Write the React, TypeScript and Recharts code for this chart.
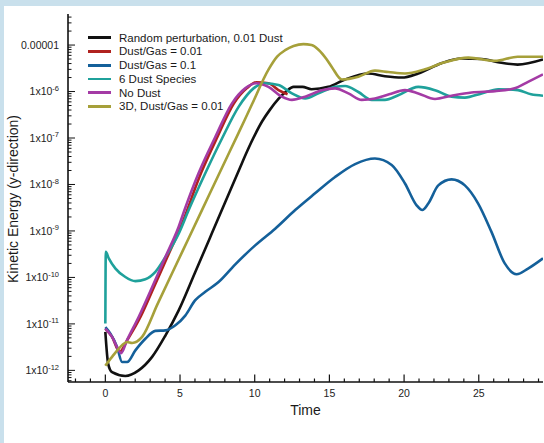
import { LineChart, Line, XAxis, YAxis, Legend } from "recharts";

// time samples and kinetic energy values
const blackT = [0, 0.19, 0.45, 1.34, 2.23, 3.13, 4.02, 4.91, 6.0, 7.0, 8.0, 9.0, 9.5, 10.03, 10.5, 11.0, 11.59, 12.1, 12.6, 13.2, 13.8, 14.93, 16.05, 17.6, 18.72, 19.84, 20.95, 22.5, 23.85, 25.2, 26.3, 27.6, 29.3];
const blackV = [6.76e-12, 1.38e-12, 9.12e-13, 7.59e-13, 1.0e-12, 1.95e-12, 5.62e-12, 1.95e-11, 1.26e-10, 7.08e-10, 3.98e-9, 2.24e-8, 5.25e-8, 1.2e-7, 2.29e-7, 3.98e-7, 6.92e-7, 1.0e-6, 1.26e-6, 1.26e-6, 1.12e-6, 1.26e-6, 1.82e-6, 2.45e-6, 2.14e-6, 2.0e-6, 2.45e-6, 4.07e-6, 5.13e-6, 5.01e-6, 4.27e-6, 3.8e-6, 4.9e-6];

const redT = [0, 0.45, 0.95, 1.5, 2.35, 3.25, 4.15, 5.05, 6.4, 7.5, 8.6, 9.5, 10.1, 10.92, 11.59, 12.2];
const redV = [7.94e-12, 5.25e-12, 2.51e-12, 4.68e-12, 1.41e-11, 6.17e-11, 2.75e-10, 1.23e-9, 1.74e-8, 1.05e-7, 5.5e-7, 1.2e-6, 1.58e-6, 1.51e-6, 1.07e-6, 8.71e-7];

const blueT = [0, 0.34, 0.79, 1.12, 1.46, 2.01, 2.68, 3.35, 4.02, 4.69, 5.35, 6.02, 6.69, 7.58, 8.7, 10.03, 11.37, 12.71, 14.04, 15.38, 16.72, 18.05, 19.17, 20.06, 20.84, 21.22, 21.62, 22.29, 23.18, 24.07, 24.96, 25.85, 26.74, 27.53, 28.3, 29.3];
const blueV = [8.51e-12, 6.17e-12, 3.16e-12, 1.51e-12, 1.51e-12, 2.69e-12, 4.79e-12, 7.08e-12, 7.24e-12, 9.33e-12, 1.51e-11, 3.24e-11, 4.9e-11, 7.94e-11, 1.91e-10, 4.9e-10, 1.12e-9, 2.82e-9, 6.46e-9, 1.45e-8, 2.75e-8, 3.63e-8, 2.63e-8, 1.05e-8, 3.55e-9, 2.82e-9, 3.89e-9, 9.55e-9, 1.29e-8, 9.55e-9, 3.89e-9, 9.55e-10, 2.0e-10, 1.17e-10, 1.55e-10, 2.57e-10];

const tealT = [0, 0.03, 0.23, 0.68, 1.34, 2.01, 2.68, 3.35, 4.02, 4.91, 5.58, 6.69, 7.81, 8.92, 9.92, 10.7, 11.59, 12.49, 13.38, 14.27, 15.38, 16.05, 16.94, 17.83, 18.72, 19.61, 20.95, 22.07, 23.18, 24.07, 25.19, 26.3, 27.63, 28.5, 29.3];
const tealV = [1.02e-11, 3.55e-10, 2.57e-10, 1.55e-10, 1.02e-10, 8.32e-11, 9.12e-11, 1.32e-10, 2.75e-10, 8.71e-10, 2.82e-9, 1.74e-8, 9.77e-8, 4.68e-7, 1.17e-6, 1.51e-6, 1.38e-6, 9.12e-7, 7.08e-7, 9.12e-7, 1.26e-6, 1.32e-6, 9.77e-7, 6.61e-7, 6.61e-7, 8.32e-7, 1.26e-6, 1.07e-6, 7.76e-7, 7.41e-7, 9.12e-7, 1.12e-6, 1.07e-6, 8.71e-7, 8.13e-7];

const magentaT = [0, 0.45, 0.9, 1.05, 1.45, 2.23, 3.13, 4.02, 4.91, 5.3, 6.24, 7.36, 8.47, 9.36, 10.1, 10.92, 11.81, 12.49, 13.38, 14.49, 15.38, 16.27, 17.16, 18.05, 19.0, 20.06, 20.95, 22.07, 23.18, 24.52, 26.08, 27.4, 28.3, 29.3];
const magentaV = [7.94e-12, 5.25e-12, 2.69e-12, 2.34e-12, 4.47e-12, 1.41e-11, 6.17e-11, 2.75e-10, 1.23e-9, 2.82e-9, 1.74e-8, 1.05e-7, 5.5e-7, 1.17e-6, 1.51e-6, 1.26e-6, 7.76e-7, 6.61e-7, 7.76e-7, 1.07e-6, 1.17e-6, 9.12e-7, 6.61e-7, 7.08e-7, 8.71e-7, 1.07e-6, 9.12e-7, 6.92e-7, 8.13e-7, 9.55e-7, 1.02e-6, 1.17e-6, 1.62e-6, 2.34e-6];

const oliveT = [0, 0.45, 1.12, 1.45, 1.79, 2.46, 3.5, 4.5, 5.5, 6.5, 7.81, 8.92, 9.81, 10.92, 11.5, 12.04, 12.6, 13.26, 13.8, 14.27, 14.8, 15.16, 15.83, 16.94, 18.05, 18.95, 20.06, 21.4, 22.73, 24.3, 26.08, 27.6, 29.3];
const oliveV = [1.26e-12, 1.95e-12, 3.47e-12, 4.07e-12, 3.89e-12, 5.25e-12, 2.69e-11, 1.29e-10, 6.17e-10, 2.95e-9, 2.29e-8, 1.29e-7, 5.25e-7, 2.95e-6, 5.62e-6, 7.76e-6, 9.55e-6, 1.05e-5, 1.0e-5, 7.94e-6, 5.01e-6, 3.39e-6, 1.82e-6, 2.09e-6, 2.82e-6, 2.63e-6, 2.45e-6, 3.02e-6, 4.27e-6, 5.37e-6, 4.57e-6, 5.62e-6, 5.62e-6];

const xTicks = [-2, -1, 0, 1, 2, 3, 4, 5, 6, 7, 8, 9, 10, 11, 12, 13, 14, 15, 16, 17, 18, 19, 20, 21, 22, 23, 24, 25, 26, 27, 28, 29];
const decades = [-13, -12, -11, -10, -9, -8, -7, -6, -5];
const mantissas = [1, 2, 3, 4, 5, 6, 7, 8, 9];

const X_DOMAIN: [number, number] = [-2.5, 29.3];
const Y_DOMAIN: [number, number] = [5.62e-13, 4.66e-5];

const yTicks = decades
  .flatMap((e) => mantissas.map((m) => m * Math.pow(10, e)))
  .filter((v) => v >= Y_DOMAIN[0] && v <= Y_DOMAIN[1]);

type Pt = { t: number; v: number };
const zip = (ts: number[], vs: number[]): Pt[] => ts.map((t, i) => ({ t, v: vs[i] }));

const series = [
  { name: "Random perturbation, 0.01 Dust", color: "#111111", data: zip(blackT, blackV) },
  { name: "Dust/Gas = 0.01", color: "#b0221f", data: zip(redT, redV) },
  { name: "Dust/Gas = 0.1", color: "#14609a", data: zip(blueT, blueV) },
  { name: "6 Dust Species", color: "#1fa19b", data: zip(tealT, tealV) },
  { name: "No Dust", color: "#a43ba5", data: zip(magentaT, magentaV) },
  { name: "3D, Dust/Gas = 0.01", color: "#a6a03a", data: zip(oliveT, oliveV) },
];

const FONT = '"Liberation Sans", Arial, Helvetica, sans-serif';

function XTick({ x, y, payload }: any) {
  const v = payload.value as number;
  const major = v % 5 === 0 && v >= 0;
  return (
    <g>
      <line x1={x} x2={x} y1={y} y2={y - (major ? 7.5 : 3.5)} stroke="#111" strokeWidth={1.2} />
      {major && (
        <text x={x} y={y + 11.5} dy="0.35em" textAnchor="middle" fontSize={10.5} fill="#222" fontFamily={FONT}>
          {v}
        </text>
      )}
    </g>
  );
}

function YTick({ x, y, payload }: any) {
  const v = payload.value as number;
  const lg = Math.log10(v);
  const e = Math.round(lg);
  const major = Math.abs(lg - e) < 1e-6;
  return (
    <g>
      <line x1={x} x2={x + (major ? 7 : 3.5)} y1={y} y2={y} stroke="#111" strokeWidth={1} />
      {major && (
        <text x={x - 9} y={y} dy="0.35em" textAnchor="end" fontSize={10.5} fill="#222" fontFamily={FONT}>
          {e === -5 ? (
            "0.00001"
          ) : (
            <>
              1x10
              <tspan dy={-4.5} fontSize={7.5}>
                {String(e)}
              </tspan>
            </>
          )}
        </text>
      )}
    </g>
  );
}

function LegendBox() {
  return (
    <div style={{ fontFamily: FONT, fontSize: 11.5, color: "#1a1a1a" }}>
      {series.map((s) => (
        <div key={s.name} style={{ display: "flex", alignItems: "center", height: 13.75, whiteSpace: "nowrap" }}>
          <span style={{ display: "inline-block", width: 23, height: 2.8, background: s.color, marginRight: 8 }} />
          <span>{s.name}</span>
        </div>
      ))}
    </div>
  );
}

export default function App() {
  return (
    <div style={{ position: "absolute", left: 0, top: 0, width: 544, height: 443, background: "#c9e0ec", overflow: "hidden" }}>
      <div style={{ position: "absolute", left: 4, top: 6, right: 0, bottom: 0, background: "#ffffff" }} />
      <div style={{ position: "absolute", left: 0, top: 0 }}>
        <LineChart width={544} height={443} margin={{ top: 14, right: 1, bottom: 0, left: 0 }}>
          <XAxis
            dataKey="t"
            type="number"
            domain={X_DOMAIN}
            allowDataOverflow
            ticks={xTicks}
            interval={0}
            height={61}
            tickSize={0}
            tickMargin={0}
            tickLine={false}
            tick={<XTick />}
            axisLine={{ stroke: "#111", strokeWidth: 1.6 }}
          />
          <XAxis
            xAxisId="top"
            orientation="top"
            type="number"
            domain={[0, 1]}
            height={0}
            tick={false}
            tickLine={false}
            axisLine={{ stroke: "#111", strokeWidth: 1.6 }}
          />
          <YAxis
            type="number"
            scale="log"
            domain={Y_DOMAIN}
            allowDataOverflow
            ticks={yTicks}
            interval={0}
            width={68}
            tickSize={0}
            tickMargin={0}
            tickLine={false}
            tick={<YTick />}
            axisLine={{ stroke: "#111", strokeWidth: 1.6 }}
          />
          <YAxis
            yAxisId="right"
            orientation="right"
            type="number"
            domain={[0, 1]}
            width={0}
            tick={false}
            tickLine={false}
            axisLine={{ stroke: "#111", strokeWidth: 1.6 }}
          />
          <Legend
            layout="vertical"
            verticalAlign="middle"
            align="center"
            wrapperStyle={{ position: "absolute", left: 88, top: 30.8, width: "auto", height: "auto" }}
            content={() => <LegendBox />}
          />
          {series.map((s) => (
            <Line
              key={s.name}
              data={s.data}
              dataKey="v"
              name={s.name}
              type="monotone"
              stroke={s.color}
              strokeWidth={2.6}
              dot={false}
              activeDot={false}
              isAnimationActive={false}
            />
          ))}
        </LineChart>
      </div>
      <div style={{ position: "absolute", left: 255.5, top: 401, width: 100, textAlign: "center", fontFamily: FONT, fontSize: 14, lineHeight: "18px", color: "#1a1a1a" }}>
        Time
      </div>
      <div
        style={{
          position: "absolute",
          left: 12.5 - 110,
          top: 199 - 9,
          width: 220,
          height: 18,
          lineHeight: "18px",
          textAlign: "center",
          fontFamily: FONT,
          fontSize: 14,
          color: "#1a1a1a",
          transform: "rotate(-90deg)",
          whiteSpace: "nowrap",
        }}
      >
        Kinetic Energy (y-direction)
      </div>
    </div>
  );
}
